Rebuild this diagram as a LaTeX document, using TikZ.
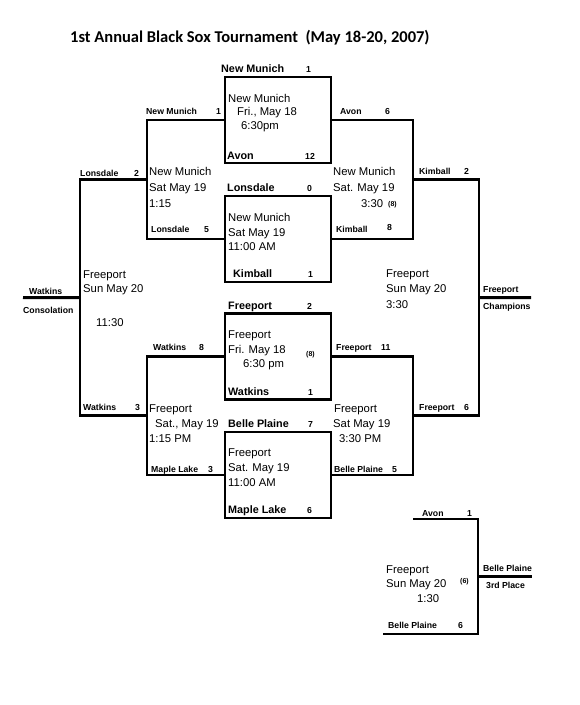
\documentclass[tikz,border=0pt]{standalone}
\usepackage{fontspec}
\setmainfont{Liberation Sans}
\newfontfamily\titlefont{Carlito}
\usepackage{tikz}
\usetikzlibrary{calc}
\tikzset{game node/.style={rectangle, draw, line width=2.8pt,
    minimum width=106pt, minimum height=86pt, outer sep=0pt}}
\tikzset{bracket edge/.style={draw, line width=2.8pt}}
\tikzset{text node/.style={anchor=base west, inner sep=0pt, font=\fontsize{11.3}{13}\selectfont}}
\tikzset{team node/.style={text node, font=\bfseries\fontsize{10.8}{13}\selectfont}}
\tikzset{score node/.style={text node, font=\bfseries\fontsize{8.7}{10}\selectfont}}
\tikzset{note node/.style={text node, font=\bfseries\fontsize{7}{8}\selectfont}}

\begin{document}
\begin{tikzpicture}
      [x=1pt, y=-1pt]
      \useasboundingbox (0,0) rectangle (580,705);
      \node [text node, font=\titlefont\bfseries\fontsize{16.5}{19}\selectfont] (title) at (70,42)
            {1st Annual Black Sox Tournament\ \ (May 18-20, 2007)};

      \node [game node] (g1) at (278,120)   {};
      \node [game node] (g2) at (278,239)   {};
      \node [game node] (g3) at (278,356.5) {};
      \node [game node] (g4) at (278,475)   {};

      \coordinate (l1t) at (147,120);   \coordinate (l1b) at (147,239);
      \coordinate (r1t) at (413,120);   \coordinate (r1b) at (413,239);
      \coordinate (l2t) at (147,356.5); \coordinate (l2b) at (147,475);
      \coordinate (r2t) at (413,356.5); \coordinate (r2b) at (413,475);
      \coordinate (lst) at (80,179.5);  \coordinate (lsb) at (80,415.75);
      \coordinate (rst) at (479,179.5); \coordinate (rsb) at (479,415.75);
      \coordinate (cons)  at (23,297.6);
      \coordinate (champ) at (531,297.6);
      \coordinate (t3a) at (413,519);   \coordinate (t3b) at (478,519);
      \coordinate (t3c) at (478,634);   \coordinate (t3d) at (383,634);
      \coordinate (t3e) at (532,576.5);

      \draw [bracket edge] (g1.west) -- (l1t) -- (l1b) -- (g2.west);
      \draw [bracket edge] (g1.east) -- (r1t) -- (r1b) -- (g2.east);
      \draw [bracket edge] (g3.west) -- (l2t) -- (l2b) -- (g4.west);
      \draw [bracket edge] (g3.east) -- (r2t) -- (r2b) -- (g4.east);
      \draw [bracket edge] ($(l1t)!.5!(l1b)$) -- (lst) -- (lsb) -- ($(l2t)!.5!(l2b)$);
      \draw [bracket edge] ($(r1t)!.5!(r1b)$) -- (rst) -- (rsb) -- ($(r2t)!.5!(r2b)$);
      \draw [bracket edge] ($(lst)!.5!(lsb)$) -- (cons);
      \draw [bracket edge] ($(rst)!.5!(rsb)$) -- (champ);
      \draw [bracket edge] (t3a) -- (t3b) -- (t3c) -- (t3d);
      \draw [bracket edge] ($(t3b)!.5!(t3c)$) -- (t3e);

      \node [team node]  (g1home)  at (221,72)  {New Munich};
      \node [score node] (g1homes) at (306,72)  {1};
      \node [text node]  (g1site)  at (228,102) {New Munich};
      \node [text node]  (g1day)   at (237,115) {Fri., May 18};
      \node [text node]  (g1time)  at (241,129) {6:30pm};
      \node [team node]  (g1away)  at (227,159) {Avon};
      \node [score node] (g1aways) at (305,159) {12};

      \node [team node]  (g2home)  at (227,191) {Lonsdale};
      \node [score node] (g2homes) at (307,191) {0};
      \node [text node]  (g2site)  at (228,221) {New Munich};
      \node [text node]  (g2day)   at (228,236) {Sat May 19};
      \node [text node]  (g2time)  at (228,250) {11:00 AM};
      \node [team node]  (g2away)  at (233,277) {Kimball};
      \node [score node] (g2aways) at (308,277) {1};

      \node [team node]  (g3home)  at (228,309) {Freeport};
      \node [score node] (g3homes) at (307,309) {2};
      \node [text node]  (g3site)  at (228,338) {Freeport};
      \node [text node]  (g3day)   at (228,353) {Fri. May 18};
      \node [text node]  (g3time)  at (243,367) {6:30 pm};
      \node [note node]  (g3inn)   at (306,356) {(8)};
      \node [team node]  (g3away)  at (228,395) {Watkins};
      \node [score node] (g3aways) at (308,395) {1};

      \node [team node]  (g4home)  at (228,427) {Belle Plaine};
      \node [score node] (g4homes) at (308,427) {7};
      \node [text node]  (g4site)  at (228,456) {Freeport};
      \node [text node]  (g4day)   at (228,471) {Sat. May 19};
      \node [text node]  (g4time)  at (228,486) {11:00 AM};
      \node [team node]  (g4away)  at (228,513) {Maple Lake};
      \node [score node] (g4aways) at (307,513) {6};

      \node [score node] (g5home)  at (146,114) {New Munich};
      \node [score node] (g5homes) at (216,114) {1};
      \node [text node]  (g5site)  at (149,175) {New Munich};
      \node [text node]  (g5day)   at (149,191) {Sat May 19};
      \node [text node]  (g5time)  at (149,207) {1:15};
      \node [score node] (g5away)  at (151,232) {Lonsdale};
      \node [score node] (g5aways) at (204,232) {5};

      \node [score node] (g6home)  at (340,114) {Avon};
      \node [score node] (g6homes) at (385,114) {6};
      \node [text node]  (g6site)  at (333,175) {New Munich};
      \node [text node]  (g6day)   at (333,191) {Sat. May 19};
      \node [text node]  (g6time)  at (361,207) {3:30};
      \node [note node]  (g6inn)   at (388,206) {(8)};
      \node [score node] (g6away)  at (336,232) {Kimball};
      \node [score node] (g6aways) at (387,230) {8};

      \node [score node] (g7home)  at (153,350) {Watkins};
      \node [score node] (g7homes) at (199,350) {8};
      \node [text node]  (g7site)  at (149,412) {Freeport};
      \node [text node]  (g7day)   at (155,427) {Sat., May 19};
      \node [text node]  (g7time)  at (149,442) {1:15 PM};
      \node [score node] (g7away)  at (151,472) {Maple Lake};
      \node [score node] (g7aways) at (208,472) {3};

      \node [score node] (g8home)  at (336,350) {Freeport};
      \node [score node] (g8homes) at (381,350) {11};
      \node [text node]  (g8site)  at (334,412) {Freeport};
      \node [text node]  (g8day)   at (333,427) {Sat May 19};
      \node [text node]  (g8time)  at (339,442) {3:30 PM};
      \node [score node] (g8away)  at (334,472) {Belle Plaine};
      \node [score node] (g8aways) at (392,472) {5};

      \node [score node] (g9home)  at (80,176)  {Lonsdale};
      \node [score node] (g9homes) at (134,176) {2};
      \node [text node]  (g9site)  at (83,278)  {Freeport};
      \node [text node]  (g9day)   at (83,292)  {Sun May 20};
      \node [text node]  (g9time)  at (96,326)  {11:30};
      \node [score node] (g9away)  at (83,410)  {Watkins};
      \node [score node] (g9aways) at (135,410) {3};
      \node [score node] (g9win)   at (29,294)  {Watkins};
      \node [score node] (g9title) at (23,313)  {Consolation};

      \node [score node] (g10home)  at (419,174) {Kimball};
      \node [score node] (g10homes) at (464,174) {2};
      \node [text node]  (g10site)  at (386,277) {Freeport};
      \node [text node]  (g10day)   at (386,292) {Sun May 20};
      \node [text node]  (g10time)  at (386,308) {3:30};
      \node [score node] (g10away)  at (419,410) {Freeport};
      \node [score node] (g10aways) at (464,410) {6};
      \node [score node] (g10win)   at (483,292) {Freeport};
      \node [score node] (g10title) at (483,309) {Champions};

      \node [score node] (g11home)  at (422,516) {Avon};
      \node [score node] (g11homes) at (467,516) {1};
      \node [text node]  (g11site)  at (386,573) {Freeport};
      \node [text node]  (g11day)   at (386,587) {Sun May 20};
      \node [text node]  (g11time)  at (417,602) {1:30};
      \node [note node]  (g11inn)   at (460,583) {(6)};
      \node [score node] (g11away)  at (388,628) {Belle Plaine};
      \node [score node] (g11aways) at (458,628) {6};
      \node [score node] (g11win)   at (483,571) {Belle Plaine};
      \node [score node] (g11title) at (486,588) {3rd Place};
\end{tikzpicture}
\end{document}
